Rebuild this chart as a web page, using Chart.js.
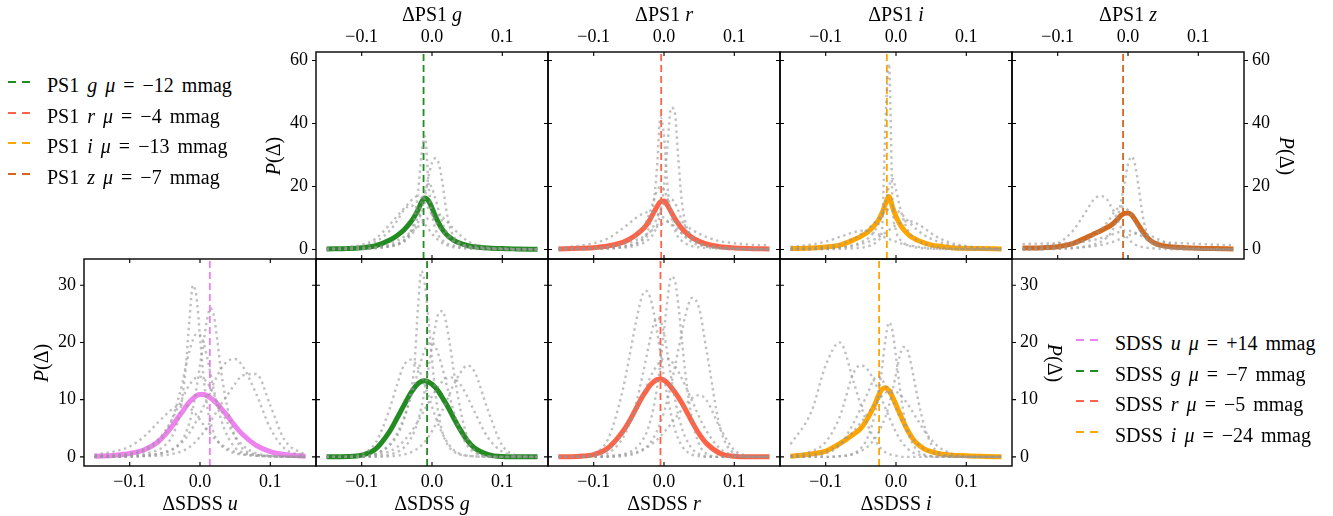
<!DOCTYPE html>
<html>
<head>
<meta charset="utf-8">
<script src="https://cdn.jsdelivr.net/npm/chart.js@4"></script>
<style>
    body { margin: 0; background: #fff; }
    #fig { position: relative; width: 1333px; height: 516px; overflow: hidden;
           font-family: 'Liberation Serif', 'DejaVu Serif', serif; color: #000; }
    .lbl { position: absolute; font-size: 20px; line-height: 20px; white-space: nowrap; text-align: center; }
    .leg { position: absolute; font-size: 20px; line-height: 20px; white-space: nowrap; word-spacing: 3px; }
    .dash { position: absolute; width: 8px; height: 2px; }
</style>
</head>
<body>
<div id="fig"></div>
<script>
// shared x grid of the density curves (denser near zero)
const XS = [-0.15, -0.12, -0.10, -0.08, -0.06, -0.05, -0.04, -0.03, -0.025, -0.02, -0.015, -0.01, -0.005, 0,
            0.005, 0.01, 0.015, 0.02, 0.025, 0.03, 0.04, 0.05, 0.06, 0.08, 0.10, 0.12, 0.15];
const XTICKS = [-0.1, 0.0, 0.1];
const PS1_YTICKS = [0, 20, 40, 60];
const SDSS_YTICKS = [0, 10, 20, 30];

const PS1_BANDS = ['g', 'r', 'i', 'z'];
const SDSS_BANDS = ['u', 'g', 'r', 'i'];
const PS1_MU = [-0.012, -0.004, -0.013, -0.007];
const SDSS_MU = [0.014, -0.007, -0.005, -0.024];

// PS1 g
const ps1gMain = [0.2,0.35,0.6,1.2,3.0,4.4,6.2,8.8,10.5,12.5,15.0,16.4,15.5,13.2,10.5,8.2,6.3,4.9,3.9,3.1,2.0,1.3,0.9,0.5,0.3,0.2,0.1];
const ps1gGrey = [
    [0.1,0.2,0.3,0.5,1.0,1.5,2.7,5.9,9.9,18,30,36,21,11.1,6.5,4.2,2.9,2.1,1.6,1.3,0.8,0.6,0.4,0.3,0.2,0.1,0.1],
    [0.1,0.2,0.3,0.5,1,1.5,2.5,4.5,6,8.5,12,17,23,27.5,29,27,21,13,7.5,4.5,2,1.2,0.8,0.4,0.2,0.1,0.1],
    [0.3,0.8,1.5,3.5,8,10.5,13,15.5,16.5,17,16.5,15,13,11,9,7,5.5,4.2,3.2,2.5,1.5,1,0.7,0.4,0.3,0.2,0.1],
    [0.1,0.2,0.3,0.5,1.2,1.8,3,5.5,7.5,10.5,14.5,18.5,21,19.5,16,12,8.5,6,4.2,3,1.8,1.1,0.7,0.4,0.2,0.1,0.1],
    [0.1,0.2,0.4,0.8,1.8,2.8,4,5.5,6.3,7.2,8.2,9.2,10,10.7,11,10.8,10.2,9.2,8,6.8,4.6,2.8,1.7,0.6,0.3,0.1,0.1],
    [0.2,0.5,1,2.5,6,9,12.5,14,13.5,12,10,8,6.5,5,3.8,2.8,2,1.5,1.1,0.8,0.5,0.3,0.2,0.1,0.1,0,0]
];
// PS1 r
const ps1rMain = [0.2,0.4,0.6,1.1,2.2,3.2,4.6,6.5,7.8,9.5,11.6,13.6,15.2,15.4,14,12,10,8.3,6.8,5.6,3.8,2.6,1.8,0.9,0.5,0.3,0.2];
const ps1rGrey = [
    [0.1,0.2,0.3,0.5,0.9,1.3,2,3.5,5,8,14,26,42,36,20,11,6.5,4,2.8,2,1.1,0.7,0.5,0.3,0.2,0.1,0.1],
    [0.1,0.1,0.2,0.3,0.6,0.8,1.2,2,2.6,3.6,5,7.5,12,20,33,45,44,30,16,9,4,2,1.2,0.5,0.3,0.2,0.1],
    [0.2,0.3,0.5,1,2,3,4.5,7,9,12,15.5,18.5,20,19,16,12.5,9.5,7,5.3,4,2.3,1.4,0.9,0.4,0.2,0.1,0.1],
    [0.6,1.2,2,3.5,6.5,8.2,10,11.4,11.8,12,11.8,11.4,10.8,10,9,8,7,6,5.2,4.4,3,2,1.4,0.8,0.5,0.3,0.2],
    [0.2,0.3,0.5,0.9,1.6,2.2,3,4,4.8,5.6,6.4,7.2,7.8,8.4,8.8,9,9,8.8,8.3,7.7,6.3,5,4,2.6,2,1.6,1.3],
    [0,0.1,0.2,0.4,0.8,1.2,1.8,3,4,5.5,7.5,10,12.5,14.5,15.8,16,15,12.5,9.5,7,3.8,2,1.2,0.5,0.2,0.1,0]
];
// PS1 i
const ps1iMain = [0.3,0.5,0.8,1.4,3.1,4.2,5.6,7.8,9.3,11.5,14.5,16.8,13.5,10.5,8.3,6.6,5.3,4.3,3.6,3,2.1,1.5,1.1,0.6,0.4,0.3,0.2];
const ps1iGrey = [
    [0,0.1,0.1,0.2,0.4,0.6,1,2,3,6,40,59,15,6,3.5,2.2,1.5,1.1,0.8,0.6,0.4,0.3,0.2,0.1,0.1,0,0],
    [0.1,0.2,0.4,0.7,1.5,2.3,3.5,6,8,11,15,20,22.5,19,14,10,7,5,3.8,3,1.8,1.2,0.8,0.4,0.2,0.1,0.1],
    [0.3,0.6,1,1.8,3.5,4.8,6.5,8.6,9.8,11,12,12.8,13,12.6,11.8,10.8,9.6,8.4,7.3,6.3,4.6,3.4,2.5,1.4,0.8,0.5,0.3],
    [0.1,0.2,0.3,0.6,1.2,1.7,2.4,3.3,3.9,4.6,5.4,6.2,7,7.7,8.3,8.8,9,9,8.7,8.2,6.8,5.2,3.8,2,1.1,0.6,0.3],
    [0.8,1.6,2.5,4,5.5,6,5.8,5.2,4.8,4.3,3.8,3.3,2.9,2.5,2.1,1.8,1.5,1.3,1.1,0.9,0.6,0.4,0.3,0.2,0.1,0.1,0]
];
// PS1 z
const ps1zMain = [0.5,0.6,0.9,1.8,3.7,4.8,5.8,7,7.6,8.5,9.6,10.8,11.5,11.6,11,9.5,7.8,6,4.5,3.2,1.8,1.2,0.9,0.6,0.4,0.3,0.2];
const ps1zGrey = [
    [0.5,1,2,5.5,12,15.5,17,16,14,12,9.5,7,5,3.5,2.4,1.6,1.1,0.8,0.6,0.5,0.3,0.2,0.1,0.1,0,0,0],
    [0.1,0.2,0.3,0.5,1,1.5,2.3,3.8,5,7,10,15,21,27,29.5,27,20,12,6.5,3.5,1.5,0.9,0.6,0.3,0.2,0.1,0.1],
    [0.2,0.4,0.7,1.4,3,4.2,6,8.5,10,11.8,13,13.6,13.5,12.5,10.8,8.8,6.8,5,3.6,2.6,1.4,0.8,0.5,0.2,0.1,0.1,0],
    [1.8,1.9,2,2.2,2.6,3,3.5,4.2,4.6,5,5.4,5.8,6,6,5.8,5.4,4.8,4.2,3.6,3.2,2.6,2.3,2.2,2,1.8,1.6,1.4],
    [0,0.1,0.2,0.4,0.8,1,1.4,1.9,2.2,2.6,3,3.5,4,4.4,4.8,5,5.2,5.2,5,4.6,3.6,2.6,1.8,0.8,0.4,0.2,0.1]
];
// SDSS u
const sdssuMain = [0.1,0.3,0.6,1.2,2.6,3.8,5.3,7.1,7.9,8.8,9.6,10.2,10.7,10.9,10.9,10.7,10.3,9.8,9.2,8.5,7,5.4,4,2,0.9,0.4,0.1];
const sdssuGrey = [
    [0,0.1,0.2,0.5,1.2,2,3.5,7,10.5,16,24,30,28,21,14,9,6,4,2.8,2,1.1,0.6,0.4,0.2,0.1,0,0],
    [0.1,0.2,0.4,1,2.5,4,6.5,10.5,13,16,18.5,20.5,21.5,21.3,20,17.5,14.5,11.5,8.8,6.5,3.4,1.6,0.8,0.3,0.1,0,0],
    [0,0,0.1,0.2,0.5,0.8,1.3,2.2,3,4.2,6,8.5,12,16,20,24,26,24.5,20,15,8,3.5,1.5,0.4,0.1,0,0],
    [0,0,0.1,0.2,0.5,0.8,1.2,2,2.6,3.3,4.2,5.2,6.3,7.5,8.8,10.2,11.6,13,14.3,15.4,16.8,17.1,16,11,5,1.5,0.2],
    [0,0,0,0.1,0.2,0.3,0.5,0.8,1,1.3,1.7,2.2,2.8,3.5,4.3,5.2,6.2,7.2,8.2,9.2,11,12.8,14.2,14.5,9,3,0.3],
    [0.4,1,1.8,3.5,6,7.2,8.3,9,9.1,9,8.6,8,7.3,6.5,5.6,4.8,4,3.3,2.7,2.2,1.4,0.9,0.5,0.2,0.1,0,0],
    [0.1,0.3,0.6,1.3,3,4.5,6.5,9,10.3,11.5,12.6,13.4,13.9,14,13.7,13,12,10.8,9.5,8.2,5.7,3.6,2.1,0.6,0.2,0.1,0]
];
// SDSS g
const sdssgMain = [0,0.05,0.3,1.4,4.5,6.7,9,11.2,12.1,12.8,13.2,13.3,13.1,12.7,12.1,11.3,10.3,9.3,8.2,7.0,4.8,2.9,1.6,0.4,0.05,0,0];
const sdssgGrey = [
    [0,0,0.1,0.5,2,3.6,6.5,11.5,16,26,32.5,30,24,17,11,7,4.2,2.6,1.6,1,0.4,0.2,0.1,0,0,0,0],
    [0,0,0,0.1,0.4,0.8,1.6,3.2,4.5,6.3,8.7,11.8,15.5,19.5,23,25.3,25.5,23.5,20,15.8,8.5,3.5,1.2,0.1,0,0,0],
    [0,0,0,0,0.1,0.2,0.4,0.8,1.1,1.5,2,2.7,3.5,4.5,5.6,6.9,8.2,9.6,11,12.4,14.6,16,15,8,2,0.3,0],
    [0,0.1,0.5,2.5,8.5,12.5,16,17,16.6,15.6,14.2,12.5,10.6,8.8,7,5.4,4,2.9,2,1.3,0.5,0.2,0.1,0,0,0,0],
    [0,0,0.1,0.5,2.2,4,6.8,10.5,12.6,14.8,17,18.8,19.8,20,19.2,17.6,15.4,13,10.6,8.3,4.5,2,0.8,0.1,0,0,0],
    [0,0,0.1,0.3,1,1.7,2.8,4.3,5.2,6.2,7.3,8.4,9.5,10.6,11.6,12.5,13.2,13.7,13.9,13.8,12.7,10.6,8,3.3,0.9,0.2,0]
];
// SDSS r
const sdssrMain = [0,0.1,0.4,1.5,4.2,6.1,8.4,10.7,11.6,12.5,13.1,13.5,13.6,13.4,12.9,12.2,11.4,10.5,9.5,8.4,6.1,4,2.4,0.6,0.1,0,0];
const sdssrGrey = [
    [0,0,0,0.1,0.4,0.8,1.5,3,4.2,6,8.5,12,16.5,22,27.5,31.5,31,27,21,15,6.5,2.2,0.6,0,0,0,0],
    [0,0.1,0.6,3,11,17,23.5,28.5,29,28,25.5,22,18,14,10.5,7.5,5,3.2,2,1.2,0.4,0.1,0,0,0,0,0],
    [0,0,0,0,0.1,0.3,0.6,1.2,1.7,2.4,3.3,4.5,6,7.8,10,12.5,15.5,18.5,21.5,24.5,27.8,26,19,5,0.6,0,0],
    [0,0,0.1,0.6,3,5.5,9.2,14.5,17.5,20.5,23,24.3,23.8,21.5,18,14,10.5,7.5,5.2,3.5,1.4,0.5,0.1,0,0,0,0],
    [0,0.1,0.3,1.2,3.8,5.8,8.2,11,12.4,13.8,15,16,16.8,17.2,17.2,16.8,16,15,13.8,12.5,9.8,7,4.6,1.4,0.3,0,0],
    [0,0,0,0.1,0.3,0.5,0.8,1.3,1.6,2,2.5,3,3.6,4.3,5,5.8,6.6,7.4,8.2,9,10.3,10.8,10,5,1.2,0.2,0]
];
// SDSS i
const sdssiMain = [0.1,0.5,1.0,2.3,4.0,5.0,6.8,9.2,10.7,11.8,12.1,11.6,10.5,9.1,7.7,6.3,5,3.9,3,2.3,1.4,0.9,0.6,0.3,0.2,0.1,0];
const sdssiGrey = [
    [0,0,0,0.1,0.6,1.5,3.5,7.5,11,15.5,20.5,23.5,22,17.5,12.5,8.2,5.2,3.2,2,1.2,0.4,0.1,0,0,0,0,0],
    [2.2,8,16,20,13,9,5.5,3,2,1.3,0.8,0.5,0.3,0.2,0.1,0,0,0,0,0,0,0,0,0,0,0,0],
    [0,0,0,0.1,0.5,1,1.8,3.2,4.2,5.5,7,9,11.5,14.5,17.5,19.2,19,17,14,10.8,5.5,2.3,0.8,0.1,0,0,0],
    [0.2,1,2.6,7,14.8,16,15.2,13,11.6,10,8.5,7,5.6,4.3,3.2,2.3,1.6,1.1,0.7,0.5,0.2,0.1,0,0,0,0,0],
    [0.1,0.4,1,2.2,4.5,6,7.6,9.2,10,10.7,11.2,11.5,11.6,11.4,11,10.3,9.5,8.6,7.6,6.6,4.6,3,1.8,0.5,0.1,0,0],
    [0,0.2,0.6,2,6,8.5,11.2,13.8,14,13.5,12.5,11.2,9.8,8.4,7,5.8,4.7,3.8,3,2.4,1.4,0.8,0.4,0.1,0,0,0]
];

const PS1_MAIN = [ps1gMain, ps1rMain, ps1iMain, ps1zMain];
const PS1_GREY = [ps1gGrey, ps1rGrey, ps1iGrey, ps1zGrey];
const SDSS_MAIN = [sdssuMain, sdssgMain, sdssrMain, sdssiMain];
const SDSS_GREY = [sdssuGrey, sdssgGrey, sdssrGrey, sdssiGrey];

// layout / style
const M = 40, PW = 232, PH = 207;
const COL_X = [84, 316, 548, 780, 1012];
const ROW_Y = [52, 259];
const PS1_YRANGE = [-3.0, 62.7];
const SDSS_YRANGE = [-1.6, 34.6];
const FONT = "'Liberation Serif', 'DejaVu Serif', serif";
const GREY = 'rgba(150,150,150,0.6)';
const COLORS = { u: '#ee82ee', g: '#228b22', r: '#ff6347', i: '#ffa500', z: '#d2691e' };

const fig = document.getElementById('fig');

function fmtX(v) {
    if (Math.abs(v) < 1e-9) return '0.0';
    return (v < 0 ? '\u2212' : '') + Math.abs(v).toFixed(1);
}

function addDiv(cls, html, css) {
    const d = document.createElement('div');
    d.className = cls;
    d.innerHTML = html;
    d.style.cssText = css;
    fig.appendChild(d);
    return d;
}

const panels = [];
PS1_BANDS.forEach((b, k) => panels.push({
    row: 0, left: COL_X[k + 1], top: ROW_Y[0], survey: 'PS1', band: b,
    main: PS1_MAIN[k], grey: PS1_GREY[k], mu: PS1_MU[k], yr: PS1_YRANGE, yticks: PS1_YTICKS,
    yside: k === 0 ? 'left' : (k === 3 ? 'right' : null)
}));
SDSS_BANDS.forEach((b, k) => panels.push({
    row: 1, left: COL_X[k], top: ROW_Y[1], survey: 'SDSS', band: b,
    main: SDSS_MAIN[k], grey: SDSS_GREY[k], mu: SDSS_MU[k], yr: SDSS_YRANGE, yticks: SDSS_YTICKS,
    yside: k === 0 ? 'left' : (k === 3 ? 'right' : null)
}));

function framePlugin(p) {
    return {
        id: 'frame',
        afterDraw(chart) {
            const { ctx, chartArea: a, scales } = chart;
            const L = 4;
            ctx.save();
            ctx.strokeStyle = '#000';
            ctx.lineWidth = 1.1;
            ctx.beginPath();
            XTICKS.forEach(v => {
                const px = scales.x.getPixelForValue(v);
                ctx.moveTo(px, a.top); ctx.lineTo(px, a.top + L);
                ctx.moveTo(px, a.bottom); ctx.lineTo(px, a.bottom - L);
            });
            p.yticks.forEach(v => {
                const py = scales.y.getPixelForValue(v);
                ctx.moveTo(a.left, py); ctx.lineTo(p.yside === 'left' ? a.left - L : a.left + L, py);
                ctx.moveTo(a.right, py); ctx.lineTo(p.yside === 'right' ? a.right + L : a.right - L, py);
            });
            ctx.stroke();
            ctx.lineWidth = 1.4;
            ctx.strokeRect(a.left, a.top, a.right - a.left, a.bottom - a.top);
            ctx.restore();
        }
    };
}

panels.forEach(p => {
    const cv = document.createElement('canvas');
    cv.width = PW + 2 * M;
    cv.height = PH + 2 * M;
    cv.style.cssText = `position:absolute;left:${p.left - M}px;top:${p.top - M}px;width:${PW + 2 * M}px;height:${PH + 2 * M}px;`;
    fig.appendChild(cv);

    const color = COLORS[p.band];
    const datasets = p.grey.map(g => ({
        data: XS.map((x, i) => ({ x: x, y: g[i] })),
        borderColor: GREY, borderWidth: 2.4, borderDash: [2.4, 3.6],
        pointRadius: 0, fill: false, cubicInterpolationMode: 'monotone'
    }));
    datasets.push({
        data: XS.map((x, i) => ({ x: x, y: p.main[i] })),
        borderColor: color, borderWidth: 5,
        pointRadius: 0, fill: false, cubicInterpolationMode: 'monotone'
    });
    datasets.push({
        data: [{ x: p.mu, y: p.yr[0] }, { x: p.mu, y: p.yr[1] }],
        borderColor: color, borderWidth: 1.8, borderDash: [7, 4],
        pointRadius: 0, fill: false, tension: 0
    });

    const tickFont = { family: FONT, size: 18, lineHeight: 1.2 };

    new Chart(cv, {
        type: 'line',
        data: { datasets: datasets },
        options: {
            responsive: false,
            animation: false,
            events: [],
            layout: {
                padding: {
                    left: p.yside === 'left' ? 0 : M,
                    right: p.yside === 'right' ? 0 : M,
                    top: p.row === 0 ? 0 : M,
                    bottom: p.row === 0 ? M : 0
                }
            },
            plugins: { legend: { display: false }, tooltip: { enabled: false } },
            scales: {
                x: {
                    type: 'linear',
                    position: p.row === 0 ? 'top' : 'bottom',
                    min: -0.165, max: 0.165,
                    grid: { display: false, drawTicks: false },
                    border: { display: false },
                    ticks: {
                        color: '#000', font: tickFont, padding: p.row === 0 ? 4 : 5,
                        maxRotation: 0, autoSkip: false, callback: v => fmtX(v)
                    },
                    afterBuildTicks: s => { s.ticks = XTICKS.map(v => ({ value: v })); },
                    afterFit: s => { s.height = M; }
                },
                y: {
                    type: 'linear',
                    display: !!p.yside,
                    position: p.yside || 'left',
                    min: p.yr[0], max: p.yr[1],
                    grid: { display: false, drawTicks: false },
                    border: { display: false },
                    ticks: {
                        color: '#000', font: tickFont, padding: 8,
                        autoSkip: false, callback: v => String(v)
                    },
                    afterBuildTicks: s => { s.ticks = p.yticks.map(v => ({ value: v })); },
                    afterFit: s => { s.width = p.yside ? M : 0; }
                }
            }
        },
        plugins: [framePlugin(p)]
    });

    // axis titles
    const xTitle = `\u0394${p.survey} <i>${p.band}</i>`;
    const ty = p.row === 0 ? 4 : 493;
    addDiv('lbl', xTitle, `left:${p.left}px;top:${ty}px;width:${PW}px;`);
    if (p.yside) {
        const cx = p.yside === 'left' ? p.left - 43 : p.left + PW + 43;
        const cy = p.top + PH / 2;
        const rot = p.yside === 'left' ? -90 : 90;
        addDiv('lbl', '<i>P</i>(\u0394)',
            `left:${cx - 40}px;top:${cy - 10}px;width:80px;height:20px;transform:rotate(${rot}deg);`);
    }
});

// legends
function legendText(survey, band, mu) {
    const mm = Math.round(Math.abs(mu) * 1000);
    const sign = mu > 0 ? '+' : '\u2212';
    return `${survey} <i>${band}</i> <i>\u03bc</i> = ${sign}${mm} mmag`;
}

function addLegend(survey, bands, mus, x0, y0) {
    bands.forEach((b, k) => {
        const top = y0 + k * 30.67;
        addDiv('leg', legendText(survey, b, mus[k]), `left:${x0 + 39}px;top:${top}px;`);
        addDiv('dash', '', `left:${x0}px;top:${top + 6}px;background:${COLORS[b]};`);
        addDiv('dash', '', `left:${x0 + 13.5}px;top:${top + 6}px;background:${COLORS[b]};`);
    });
}

addLegend('PS1', PS1_BANDS, PS1_MU, 8, 75);
addLegend('SDSS', SDSS_BANDS, SDSS_MU, 1076, 333);
</script>
</body>
</html>
